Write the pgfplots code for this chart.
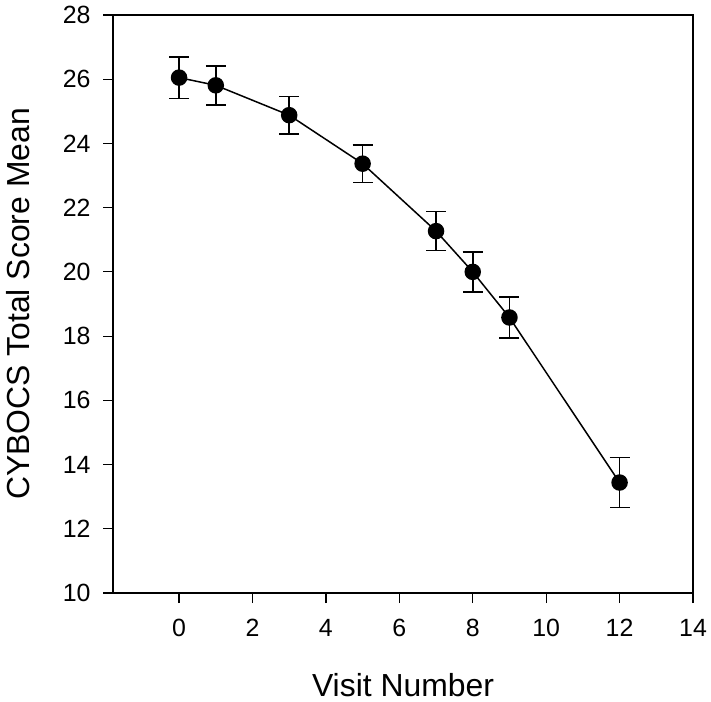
\documentclass[border=0pt]{standalone}
\usepackage{pgfplots}
\pgfplotsset{compat=1.18}
\usepackage{fontspec}
\setmainfont{Liberation Sans}
\begin{document}
\begin{tikzpicture}
\begin{axis}[
  name=ax,
  scale only axis,
  width=580bp, height=578bp,
  xmin=-1.8, xmax=14,
  ymin=10, ymax=28,
  xtick={0,2,4,6,8,10,12,14},
  ytick={10,12,14,16,18,20,22,24,26,28},
  tick align=outside,
  xtick pos=bottom, ytick pos=left,
  major tick length=10bp,
  axis line style={line width=1.2bp},
  tick style={line width=1.2bp, black},
  /pgf/number format/assume math mode=true,
  tick label style={font=\fontsize{25}{30}\selectfont},
  xticklabel style={yshift=-13bp},
  yticklabel style={xshift=-9bp},
  label style={font=\fontsize{32}{38}\selectfont},
  xlabel={Visit Number},
  ylabel={CYBOCS Total Score Mean},
  xlabel style={at={(axis description cs:0.5,-0.1782)}, anchor=base},
  ylabel style={at={(axis description cs:-0.1448,0.5)}, anchor=base},
  clip=false,
]
\addplot+[black, line width=1.5bp, mark=*, mark size=7.5bp,
  mark options={black, fill=black},
  error bars/.cd, y dir=both, y explicit,
  error bar style={line width=1.6bp, black},
  error mark options={rotate=90, mark size=10bp, line width=1.6bp, black}]
coordinates {
  (0,26.05)  +- (0,0.65)
  (1,25.81)  +- (0,0.61)
  (3,24.88)  +- (0,0.58)
  (5,23.37)  +- (0,0.59)
  (7,21.27)  +- (0,0.61)
  (8,20.00)  +- (0,0.62)
  (9,18.58)  +- (0,0.64)
  (12,13.44) +- (0,0.78)
};
\end{axis}
\pgfresetboundingbox
\path ([shift={(-113bp,-109bp)}]ax.south west) rectangle ([shift={(18bp,15bp)}]ax.north east);
\end{tikzpicture}
\end{document}
